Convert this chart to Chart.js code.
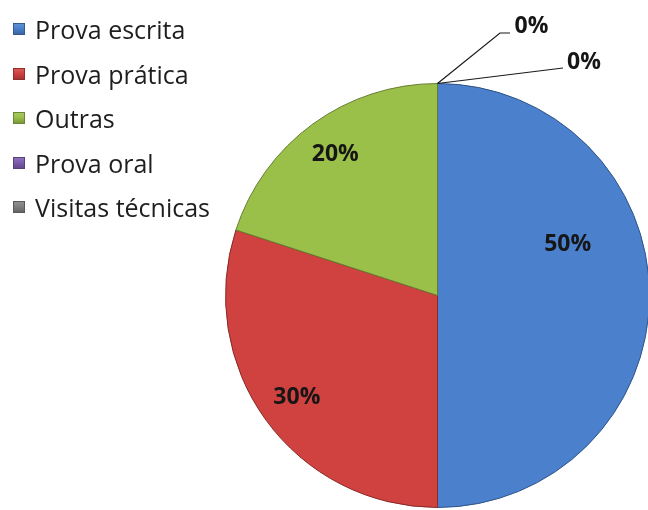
<!DOCTYPE html>
<html>
<head>
<meta charset="utf-8">
<script src="https://cdn.jsdelivr.net/npm/chart.js@4.4.1/dist/chart.umd.min.js"></script>
<style>
  html, body { margin: 0; padding: 0; background: #fff; overflow: hidden; width: 648px; height: 510px; }
  #wrap { position: relative; width: 660px; height: 510px; }
  #c { position: absolute; left: 0; top: 0; }
  #legend { position: absolute; left: 13px; top: 7px; font-family: "Open Sans", sans-serif; font-size: 25px; color: #1e1e1e; }
  .item { display: flex; align-items: center; height: 44.5px; white-space: nowrap; }
  .sw { width: 12px; height: 12px; margin-right: 10px; flex: none; }
</style>
</head>
<body>
<div id="wrap">
  <canvas id="c" width="660" height="510"></canvas>
  <div id="legend"></div>
</div>
<script>
// Assessment methods and their share of the total (%)
const categories = ['Prova escrita', 'Prova prática', 'Outras', 'Prova oral', 'Visitas técnicas'];
const shares = [50, 30, 20, 0, 0];
const sliceColors = ['#4a80cc', '#d0423f', '#9bc049', '#7d5caf', '#7f7f7f'];

// Label placement inside slices: fraction of radius and angle nudge (degrees)
const labelRadius = [0.66, 0.82, 0.82, 0, 0];
const labelAngleNudge = [-21.5, 0, 0, 0, 0];
// Leader lines for zero-size slices: elbow / end offsets from the slice point
const leaders = [
  null, null, null,
  { pts: [[62.5, -50.5], [72.5, -50.5]], text: [77, -50.5] },
  { pts: [[125.5, -15.5]], text: [129.5, -14.5] }
];

function shade(hex, f) {
  const n = parseInt(hex.slice(1), 16);
  let r = (n >> 16) & 255, g = (n >> 8) & 255, b = n & 255;
  const m = v => Math.max(0, Math.min(255, Math.round(f < 0 ? v * (1 + f) : v + (255 - v) * f)));
  return `rgb(${m(r)},${m(g)},${m(b)})`;
}

// Legend
const legend = document.getElementById('legend');
categories.forEach((name, i) => {
  const row = document.createElement('div');
  row.className = 'item';
  const sw = document.createElement('span');
  sw.className = 'sw';
  sw.style.background = `linear-gradient(180deg, ${shade(sliceColors[i], 0.15)} 0%, ${sliceColors[i]} 45%, ${shade(sliceColors[i], -0.25)} 100%)`;
  sw.style.boxShadow = `inset 0 0 0 1px ${shade(sliceColors[i], -0.3)}`;
  const tx = document.createElement('span');
  tx.textContent = name;
  row.appendChild(sw);
  row.appendChild(tx);
  legend.appendChild(row);
});

// Bevelled slice fill
function sliceFill(ctx) {
  const chart = ctx.chart;
  const el = chart.getDatasetMeta(0).data[ctx.dataIndex];
  const base = sliceColors[ctx.dataIndex];
  if (!el || !el.outerRadius) return base;
  const g = chart.ctx.createRadialGradient(el.x, el.y, 0, el.x, el.y, el.outerRadius);
  g.addColorStop(0, shade(base, 0.05));
  g.addColorStop(0.88, base);
  g.addColorStop(0.95, shade(base, -0.07));
  g.addColorStop(1, shade(base, -0.32));
  return g;
}

const sliceLabels = {
  id: 'sliceLabels',
  afterDatasetsDraw(chart) {
    const c = chart.ctx;
    const meta = chart.getDatasetMeta(0);
    c.save();
    c.font = 'bold 23px "Open Sans", sans-serif';
    c.fillStyle = '#161616';
    c.strokeStyle = '#1a1a1a';
    c.lineWidth = 1.2;
    meta.data.forEach((el, i) => {
      const p = el.getProps(['x', 'y', 'startAngle', 'endAngle', 'outerRadius'], true);
      const text = shares[i] + '%';
      if (shares[i] > 0) {
        const a = (p.startAngle + p.endAngle) / 2 + labelAngleNudge[i] * Math.PI / 180;
        const r = p.outerRadius * labelRadius[i];
        c.textAlign = 'center';
        c.textBaseline = 'middle';
        c.fillText(text, p.x + Math.cos(a) * r, p.y + Math.sin(a) * r);
      } else if (leaders[i]) {
        const ax = p.x + Math.cos(p.startAngle) * p.outerRadius;
        const ay = p.y + Math.sin(p.startAngle) * p.outerRadius;
        c.beginPath();
        c.moveTo(ax, ay);
        leaders[i].pts.forEach(([dx, dy]) => c.lineTo(ax + dx, ay + dy));
        c.stroke();
        c.textAlign = 'left';
        c.textBaseline = 'alphabetic';
        c.fillText(text, ax + leaders[i].text[0], ay + leaders[i].text[1]);
      }
    });
    c.restore();
  }
};

new Chart(document.getElementById('c'), {
  type: 'pie',
  data: {
    labels: categories,
    datasets: [{
      data: shares,
      backgroundColor: sliceFill,
      borderColor: sliceColors.map(col => shade(col, -0.35)),
      borderWidth: 1,
      hoverOffset: 0
    }]
  },
  options: {
    responsive: false,
    animation: false,
    devicePixelRatio: 1,
    layout: { padding: { left: 225, right: 10, top: 83, bottom: 2 } },
    plugins: { legend: { display: false }, tooltip: { enabled: false } },
    events: []
  },
  plugins: [sliceLabels]
});
</script>
</body>
</html>
